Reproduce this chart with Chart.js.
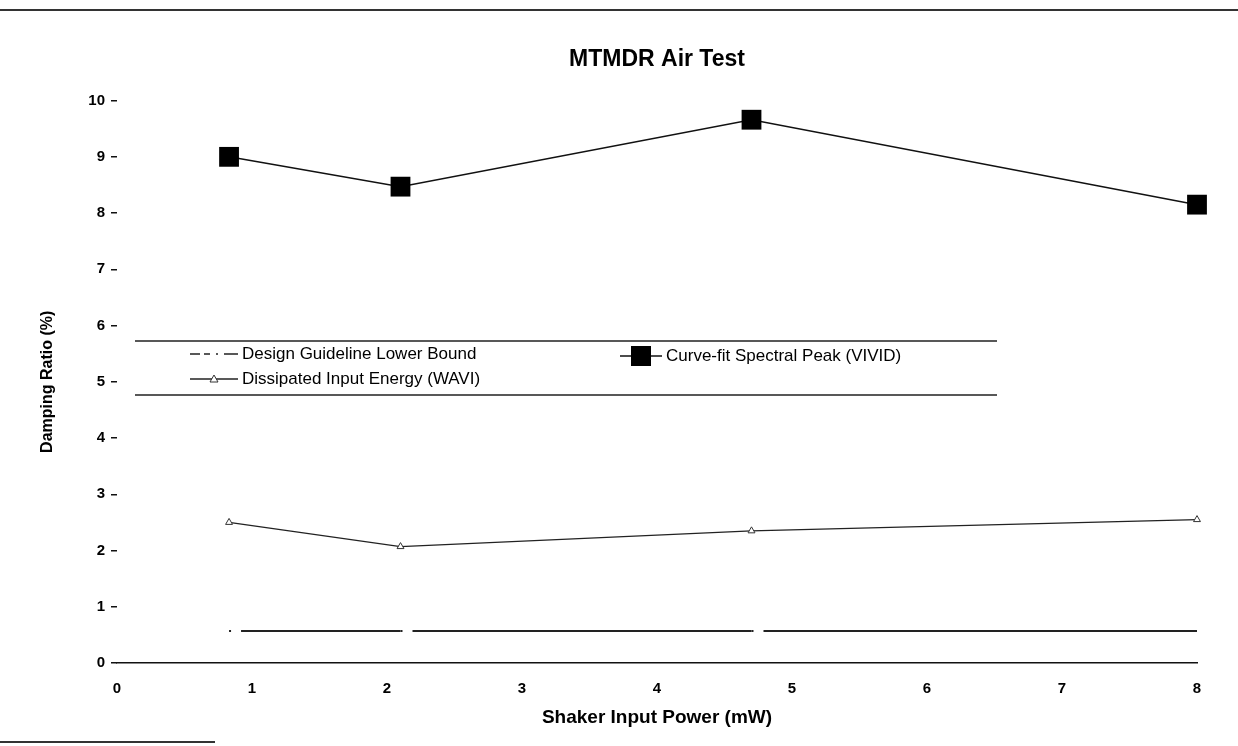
<!DOCTYPE html>
<html>
<head>
<meta charset="utf-8">
<title>MTMDR Air Test</title>
<script src="https://cdn.jsdelivr.net/npm/chart.js@4.4.0/dist/chart.umd.min.js"></script>
<style>
  html, body { margin: 0; padding: 0; background: #fff; }
  #wrap { position: relative; width: 1238px; height: 746px; }
  #topRule { position: absolute; left: 0; top: 9px; width: 1238px; border-top: 2px solid #333; }
  #bottomRule { position: absolute; left: 0; top: 741px; width: 215px; border-top: 2px solid #333; }
  canvas { position: absolute; left: 0; top: 0; }
</style>
</head>
<body>
<div id="wrap">
  <canvas id="airChart" width="1238" height="746"></canvas>
  <div id="topRule"></div>
  <div id="bottomRule"></div>
</div>
<script>
// Data
const powerMW = [0.83, 2.1, 4.7, 8.0];
const vividRatio = [9.0, 8.47, 9.66, 8.15];
const waviRatio = [2.5, 2.07, 2.35, 2.55];
const guidelineRatio = [0.57, 0.57, 0.57, 0.57];
const seriesNames = [
  "Design Guideline Lower Bound",
  "Dissipated Input Energy (WAVI)",
  "Curve-fit Spectral Peak (VIVID)",
];
const xTickValues = [0, 1, 2, 3, 4, 5, 6, 7, 8];
const yTickValues = [0, 1, 2, 3, 4, 5, 6, 7, 8, 9, 10];

const FONT = "'Liberation Sans', Arial, Helvetica, sans-serif";

function toPoints(xs, ys) {
  return xs.map((x, i) => ({ x: x, y: ys[i] }));
}

// Legend drawn as a ruled box inside the plot, like the original
const boxLegend = {
  id: "boxLegend",
  afterDraw(chart) {
    const ctx = chart.ctx;
    const ds = chart.data.datasets;
    const left = 135, right = 997, top = 341, bottom = 395;

    ctx.save();
    ctx.fillStyle = "#fff";
    ctx.fillRect(left, top, right - left, bottom - top);
    ctx.strokeStyle = "#222";
    ctx.lineWidth = 1.5;
    ctx.beginPath();
    ctx.moveTo(left, top);
    ctx.lineTo(right, top);
    ctx.moveTo(left, bottom);
    ctx.lineTo(right, bottom);
    ctx.stroke();

    const items = [
      { d: ds[0], x: 190, y: 354, len: 48, dash: [10, 4, 6, 6, 2, 6, 14] },
      { d: ds[1], x: 190, y: 379, len: 48, dash: [] },
      { d: ds[2], x: 620, y: 356, len: 42, dash: [] },
    ];
    ctx.font = "17px " + FONT;
    ctx.textBaseline = "middle";
    items.forEach((it) => {
      const d = it.d;
      ctx.strokeStyle = d.borderColor;
      ctx.lineWidth = Math.min(d.borderWidth, 1.5);
      ctx.setLineDash(it.dash);
      ctx.beginPath();
      ctx.moveTo(it.x, it.y);
      ctx.lineTo(it.x + it.len, it.y);
      ctx.stroke();
      ctx.setLineDash([]);
      const cx = it.x + it.len / 2;
      if (d.pointStyle === "rect") {
        ctx.fillStyle = d.pointBackgroundColor;
        ctx.fillRect(cx - 10, it.y - 10, 20, 20);
      } else if (d.pointStyle === "triangle") {
        ctx.fillStyle = "#fff";
        ctx.strokeStyle = d.pointBorderColor;
        ctx.lineWidth = 1;
        ctx.beginPath();
        ctx.moveTo(cx, it.y - 4);
        ctx.lineTo(cx + 4, it.y + 3);
        ctx.lineTo(cx - 4, it.y + 3);
        ctx.closePath();
        ctx.fill();
        ctx.stroke();
      }
      ctx.fillStyle = "#000";
      ctx.fillText(d.label, it.x + it.len + 4, it.y);
    });
    ctx.restore();
  },
};

const ctx = document.getElementById("airChart").getContext("2d");
const airChart = new Chart(ctx, {
  type: "line",
  data: {
    datasets: [
      {
        label: seriesNames[0],
        data: toPoints(powerMW, guidelineRatio),
        borderColor: "#222",
        borderWidth: 2,
        borderDash: [2, 10, 2000, 0],
        // restart the dash pattern at every vertex, as the original does
        segment: {
          borderDashOffset: (c) => c.p0DataIndex * 0.001,
        },
        pointRadius: 0,
        pointStyle: false,
        clip: false,
      },
      {
        label: seriesNames[1],
        data: toPoints(powerMW, waviRatio),
        borderColor: "#222",
        borderWidth: 1.3,
        pointStyle: "triangle",
        pointRadius: 4,
        pointBackgroundColor: "#fff",
        pointBorderColor: "#333",
        pointBorderWidth: 1,
        clip: false,
      },
      {
        label: seriesNames[2],
        data: toPoints(powerMW, vividRatio),
        borderColor: "#111",
        borderWidth: 1.5,
        pointStyle: "rect",
        pointRadius: 14,
        pointBackgroundColor: "#000",
        pointBorderColor: "#000",
        pointBorderWidth: 0,
        clip: false,
      },
    ],
  },
  options: {
    responsive: false,
    animation: false,
    layout: {
      padding: { left: 0, right: 41, top: 8, bottom: 0 },
    },
    scales: {
      x: {
        type: "linear",
        min: 0,
        max: 8,
        afterFit: (s) => {
          s.height = 83;
        },
        afterBuildTicks: (s) => {
          s.ticks = xTickValues.map((v) => ({ value: v }));
        },
        ticks: {
          padding: 17,
          color: "#000",
          font: { family: FONT, size: 15, weight: "bold" },
        },
        grid: { display: false, drawTicks: false },
        border: { display: true, color: "#111", width: 1.5 },
        title: {
          display: true,
          text: "Shaker Input Power (mW)",
          color: "#000",
          font: { family: FONT, size: 19, weight: "bold" },
          padding: { top: 0, bottom: 17 },
        },
      },
      y: {
        min: 0,
        max: 10,
        afterFit: (s) => {
          s.width = 117;
        },
        afterBuildTicks: (s) => {
          s.ticks = yTickValues.map((v) => ({ value: v }));
        },
        ticks: {
          padding: 6,
          color: "#000",
          font: { family: FONT, size: 15, weight: "bold" },
        },
        grid: {
          display: true,
          drawOnChartArea: false,
          drawTicks: true,
          tickLength: 6,
          color: "#111",
          lineWidth: 1.5,
        },
        border: { display: false },
        title: {
          display: true,
          text: "Damping Ratio (%)",
          color: "#000",
          font: { family: FONT, size: 16, weight: "bold" },
          padding: { top: 38, bottom: 0 },
        },
      },
    },
    plugins: {
      legend: { display: false },
      tooltip: { enabled: false },
      title: {
        display: true,
        fullSize: false,
        text: "MTMDR Air Test",
        color: "#000",
        font: { family: FONT, size: 23, weight: "bold" },
        padding: { top: 38, bottom: 27 },
      },
    },
  },
  plugins: [boxLegend],
});
</script>
</body>
</html>
